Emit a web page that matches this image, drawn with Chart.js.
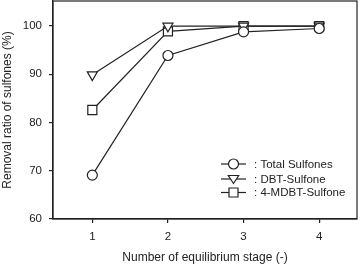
<!DOCTYPE html>
<html lang="en">
<head>
<meta charset="UTF-8">
<title>Removal ratio of sulfones</title>
<script src="https://cdn.jsdelivr.net/npm/chart.js"></script>
<style>
  html, body { margin: 0; padding: 0; background: #fff; }
  .wrap { width: 362px; height: 265px; }
</style>
</head>
<body>
<div class="wrap"><canvas id="c" width="362" height="265"></canvas></div>
<script>
const stages = [1, 2, 3, 4];
const totalSulfones = [69.1, 93.9, 98.8, 99.5];
const dbtSulfone = [89.9, 100, 100, 100];
const mdbtSulfone = [82.6, 98.9, 100, 100];
const yTicks = [60, 70, 80, 90, 100];
const xTicks = [1, 2, 3, 4];
const seriesNames = [': Total Sulfones', ': DBT-Sulfone', ': 4-MDBT-Sulfone'];

const ink = '#222';
const font = 'Arial, "Liberation Sans", sans-serif';

function pts(ys) {
  return stages.map((x, i) => ({ x: x, y: ys[i] }));
}

function series(label, ys, style, radius, rot) {
  return {
    label: label,
    data: pts(ys),
    borderColor: ink,
    borderWidth: 1.2,
    backgroundColor: '#fff',
    pointBackgroundColor: '#fff',
    pointBorderColor: ink,
    pointBorderWidth: 1.2,
    pointStyle: style,
    pointRadius: radius,
    pointRotation: rot || 0,
    tension: 0,
    clip: false
  };
}

// box around plot area + legend inside
const boxAndLegend = {
  id: 'boxAndLegend',
  afterDraw(chart) {
    const { ctx, chartArea: a } = chart;
    ctx.save();
    ctx.strokeStyle = ink;
    ctx.lineWidth = 1.2;
    ctx.strokeRect(a.left, a.top, a.right - a.left, a.bottom - a.top);

    const rows = [a.bottom - 55, a.bottom - 40, a.bottom - 26.5];
    const styles = ['circle', 'tri', 'rect'];
    ctx.font = '11.5px ' + font;
    ctx.fillStyle = ink;
    ctx.textBaseline = 'middle';
    rows.forEach((y, i) => {
      const x0 = 221, x1 = 246, cx = 233.5;
      ctx.beginPath();
      ctx.moveTo(x0, y); ctx.lineTo(x1, y);
      ctx.stroke();
      ctx.beginPath();
      if (styles[i] === 'circle') {
        ctx.arc(cx, y, 5, 0, Math.PI * 2);
      } else if (styles[i] === 'tri') {
        ctx.moveTo(cx - 5.2, y - 3.5);
        ctx.lineTo(cx + 5.2, y - 3.5);
        ctx.lineTo(cx, y + 4.5);
        ctx.closePath();
      } else {
        ctx.rect(cx - 4.5, y - 4.5, 9, 9);
      }
      ctx.fillStyle = '#fff';
      ctx.fill();
      ctx.stroke();
      ctx.fillStyle = ink;
      ctx.fillText(seriesNames[i], 254, y + 0.5);
    });
    ctx.restore();
  }
};

new Chart(document.getElementById('c'), {
  type: 'line',
  data: {
    datasets: [
      series('Total Sulfones', totalSulfones, 'circle', 5),
      series('DBT-Sulfone', dbtSulfone, 'triangle', 5.8, 180),
      series('4-MDBT-Sulfone', mdbtSulfone, 'rect', 6.4)
    ]
  },
  options: {
    responsive: false,
    animation: false,
    events: [],
    layout: { autoPadding: false, padding: { top: 1, right: 5, left: 0, bottom: 0 } },
    plugins: {
      legend: { display: false },
      tooltip: { enabled: false }
    },
    scales: {
      x: {
        type: 'linear',
        min: 0.48,
        max: 4.5,
        afterBuildTicks: s => { s.ticks = xTicks.map(v => ({ value: v })); },
        afterFit: s => { s.height = 46; s.paddingLeft = 0; s.paddingRight = 0; },
        grid: { drawOnChartArea: false, drawTicks: true, tickLength: 4, color: ink, lineWidth: 1.2 },
        border: { display: true, color: ink, width: 1.2 },
        ticks: { color: ink, font: { family: font, size: 11.5 }, padding: 7, maxRotation: 0 },
        title: {
          display: true,
          text: 'Number of equilibrium stage (-)',
          color: ink,
          font: { family: font, size: 12 },
          padding: { top: 0, bottom: 0 }
        }
      },
      y: {
        min: 60,
        max: 105.2,
        afterBuildTicks: s => { s.ticks = yTicks.map(v => ({ value: v })); },
        afterFit: s => { s.width = 53; s.paddingTop = 0; s.paddingBottom = 0; },
        grid: { drawOnChartArea: false, drawTicks: true, tickLength: 4, color: ink, lineWidth: 1.2 },
        border: { display: true, color: ink, width: 1.2 },
        ticks: { color: ink, font: { family: font, size: 11.5 }, padding: 7 },
        title: {
          display: true,
          text: 'Removal ratio of sulfones (%)',
          color: ink,
          font: { family: font, size: 12 },
          padding: { top: 0, bottom: 0 }
        }
      }
    }
  },
  plugins: [boxAndLegend]
});
</script>
</body>
</html>
